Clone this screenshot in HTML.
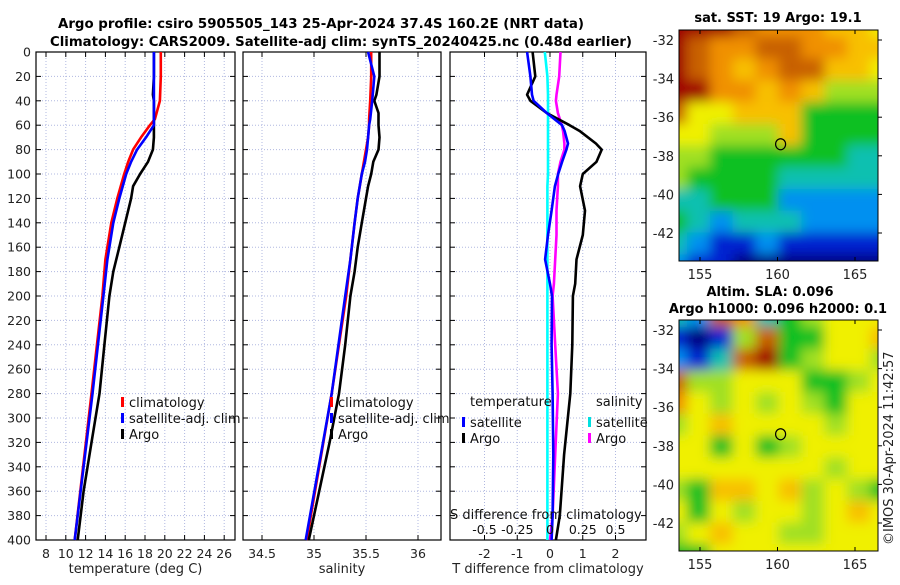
<!DOCTYPE html>
<html><head><meta charset="utf-8"><style>
body{margin:0;background:#fff;width:900px;height:580px;overflow:hidden}
svg{font-family:"DejaVu Sans","Liberation Sans",sans-serif}
</style></head><body>
<svg id="fig" width="900" height="580" xmlns="http://www.w3.org/2000/svg">
<defs>
<filter id="blur1" filterUnits="userSpaceOnUse" x="640" y="0" width="260" height="580"><feGaussianBlur stdDeviation="6"/></filter>
<clipPath id="clipM1"><rect x="679" y="30" width="199" height="231"/></clipPath>
<clipPath id="clipM2"><rect x="679" y="320" width="199" height="231"/></clipPath>
</defs>
<text x="321" y="28" text-anchor="middle" font-size="13" font-weight="bold" textLength="526" lengthAdjust="spacingAndGlyphs">Argo profile: csiro 5905505_143 25-Apr-2024 37.4S 160.2E (NRT data)</text>
<text x="341" y="46" text-anchor="middle" font-size="13" font-weight="bold" textLength="582" lengthAdjust="spacingAndGlyphs">Climatology: CARS2009. Satellite-adj clim: synTS_20240425.nc (0.48d earlier)</text>
<g id="plots"></g>
<text x="778" y="22" text-anchor="middle" font-size="13" font-weight="bold">sat. SST: 19 Argo: 19.1</text>
<text x="770" y="296" text-anchor="middle" font-size="13" font-weight="bold">Altim. SLA: 0.096</text>
<text x="778" y="313" text-anchor="middle" font-size="13" font-weight="bold">Argo h1000: 0.096 h2000: 0.1</text>
<text transform="translate(893,545) rotate(-90)" font-size="13" fill="#222">©IMOS 30-Apr-2024 11:42:57</text>
</svg>
<script>
// ---------- profile data ----------
const depthClim = [0,20,40,55,60,70,80,90,100,120,140,170,200,280,400];
const tempClim  = [19.6,19.6,19.5,19.0,18.5,17.6,16.8,16.3,15.9,15.2,14.6,14.0,13.7,12.6,10.9];
const tempSat   = [18.9,18.9,18.9,18.9,18.9,18.1,17.2,16.6,16.1,15.4,14.8,14.2,13.8,12.7,10.9];
const depthArgoT = [0,20,35,40,50,60,70,80,90,100,110,120,140,160,180,200,240,280,320,360,400];
const tempArgo   = [18.9,18.9,18.8,18.9,18.9,18.9,18.9,18.8,18.3,17.5,16.8,16.6,16.0,15.4,14.8,14.4,13.9,13.4,12.6,11.8,11.2];
const salClim = [35.55,35.55,35.54,35.53,35.53,35.52,35.50,35.48,35.46,35.42,35.39,35.35,35.31,35.17,34.93];
const salSat  = [35.52,35.58,35.56,35.54,35.53,35.52,35.51,35.49,35.46,35.42,35.39,35.35,35.30,35.17,34.92];
const salArgo = [35.63,35.63,35.60,35.58,35.62,35.62,35.63,35.62,35.57,35.55,35.52,35.50,35.46,35.42,35.39,35.35,35.30,35.24,35.15,35.05,34.95];
const depthDiff = [0,20,35,40,50,60,65,75,80,90,100,110,130,150,170,190,200,240,280,330,380,400];
const dTsat  = [-0.7,-0.6,-0.55,-0.5,-0.1,0.37,0.45,0.55,0.5,0.37,0.25,0.15,0.05,-0.06,-0.15,0.0,0.06,0.05,0.08,0.1,0.08,0.05];
const dTargo = [-0.53,-0.45,-0.7,-0.6,-0.1,0.6,0.92,1.4,1.58,1.42,1.0,0.92,1.07,1.0,0.81,0.77,0.7,0.68,0.62,0.43,0.3,0.18];
const dSsat  = [-0.04,-0.02,-0.015,-0.015,-0.015,-0.015,-0.015,-0.015,-0.015,-0.015,-0.015,-0.02,-0.02,-0.02,-0.02,-0.02,-0.02,-0.02,-0.02,-0.02,-0.02,-0.02];
const dSargo = [0.08,0.07,0.05,0.045,0.06,0.09,0.1,0.11,0.11,0.08,0.06,0.06,0.05,0.05,0.04,0.03,0.02,0.04,0.06,0.04,0.02,0.0];
const depthTicks = [0,20,40,60,80,100,120,140,160,180,200,220,240,260,280,300,320,340,360,380,400];
const tempTicks = [8,10,12,14,16,18,20,22,24,26];
const salTicks = [34.5,35,35.5,36];
const salTickLabels = ["34.5","35","35.5","36"];
const dTTicks = [-2,-1,0,1,2];
const dSTicks = [-0.5,-0.25,0,0.25,0.5];
const dSTickLabels = ["-0.5","-0.25","0","0.25","0.5"];
// ---------- map data (jet index 0..10), rows lat -32..-43, cols lon west->east ----------
const sstGrid = [
[10,10,10,9,8,8,8,7,7,6],
[10,9,8,8,9,9,8,8,7,7],
[10,9,8,7,8,9,9,7,7,6],
[10,10,8,8,7,8,7,5,5,5],
[9,6,6,7,7,7,4,4,4,4],
[6,6,5,5,5,7,4,4,4,4],
[5,5,4,4,4,4,4,4,3,3],
[5,4,4,4,4,3,3,3,3,3],
[3,3,4,4,4,2,2,2,2,2],
[4,3,2,3,3,3,2,2,2,2],
[3,2,1,1,2,1,1,1,1,1],
[2,1,1,0,0,0,0,0,0,0]];
const slaGrid = [
[3,2,9,8,3,4,5,6,6,6],
[1,0,1,5,9,4,4,6,6,7],
[2,1,3,9,10,4,5,6,6,5],
[9,5,5,6,6,6,4,4,5,6],
[8,6,5,6,5,6,5,4,6,6],
[5,6,7,6,6,6,6,5,6,6],
[6,6,4,6,4,5,6,6,6,6],
[6,6,6,6,6,6,6,5,6,6],
[5,4,7,7,6,7,5,6,5,4],
[6,4,6,5,6,6,5,6,7,6],
[5,6,7,6,6,5,5,6,6,6],
[4,4,6,6,6,6,6,6,6,6]];
const lonTicks = [155,160,165];
const latTicks = [-32,-34,-36,-38,-40,-42];
const argoLon = 160.2, argoLat = -37.4;
const jet = ["#00007f","#0020d0","#0090f0","#10c0b0","#10c020","#a0e020","#f0f000","#f8c000","#f09000","#c86000","#a00000"];

const NS="http://www.w3.org/2000/svg";
const root=document.getElementById('plots');
function mk(tag,attrs,parent){const e=document.createElementNS(NS,tag);for(const k in attrs)e.setAttribute(k,attrs[k]);(parent||root).appendChild(e);return e;}
const Y0=52,Y1=540;
const yD=d=>Y0+(Y1-Y0)*d/400;

function panel(name,x0,x1,xs,xTicks,xLabels,xTitle,showY){
  const g=mk('g',{});
  
  
  xTicks.forEach((v,i)=>{
    const l=mk('line',{x1:xs(v),x2:xs(v),y1:Y0,y2:Y1,stroke:'#b0b8e0','stroke-dasharray':'1,2','stroke-width':1},g);
    
    
    mk('line',{x1:xs(v),x2:xs(v),y1:Y1,y2:Y1-5,stroke:'#000'},g);
    mk('line',{x1:xs(v),x2:xs(v),y1:Y0,y2:Y0+5,stroke:'#000'},g);
    const t=mk('text',{x:xs(v),y:558,'text-anchor':'middle','font-size':12.5,fill:'#222'},g);
    
    
    t.textContent=xLabels[i];
  });
  depthTicks.forEach(d=>{
    const l=mk('line',{x1:x0,x2:x1,y1:yD(d),y2:yD(d),stroke:'#b0b8e0','stroke-dasharray':'1,2','stroke-width':1},g);
    
    
    mk('line',{x1:x0,x2:x0+5,y1:yD(d),y2:yD(d),stroke:'#000'},g);
    mk('line',{x1:x1,x2:x1-5,y1:yD(d),y2:yD(d),stroke:'#000'},g);
    if(showY){
      const t=mk('text',{x:31,y:yD(d)+4.5,'text-anchor':'end','font-size':12.5,fill:'#222'},g);
      
      
      t.textContent=d;
    }
  });
  const r=mk('rect',{x:x0,y:Y0,width:x1-x0,height:Y1-Y0,fill:'none',stroke:'#000','stroke-width':1.2},g);
  
  
  const tt=mk('text',{x:(x0+x1)/2,y:573,'text-anchor':'middle','font-size':13,fill:'#222'},g);
  
  
  tt.textContent=xTitle;
  return g;
}
function series(g,name,xs,vals,depths,color){
  const pts=vals.map((v,i)=>xs(v).toFixed(1)+','+yD(depths[i]).toFixed(1)).join(' ');
  const p=mk('polyline',{points:pts,fill:'none',stroke:color,'stroke-width':2.6,'stroke-linejoin':'round'},g);
  
  
}
function legend(g,x,y,color,label,name){
  const b=mk('rect',{x:x,y:y-7,width:3,height:10,fill:color},g);
  
  
  const t=mk('text',{x:x+8,y:y+3,'font-size':13,fill:'#111'},g);
  
  
  t.textContent=label;
}
// Panel 1 temperature
const xT=v=>46+(v-8)*9.9;
const g1=panel('temperature-panel',36,235,xT,tempTicks,tempTicks.map(String),'temperature (deg C)',true);
series(g1,'temp-climatology-line',xT,tempClim,depthClim,'#ff0000');
series(g1,'temp-argo-line',xT,tempArgo,depthArgoT,'#000');
series(g1,'temp-satellite-line',xT,tempSat,depthClim,'#0000ff');
legend(g1,121,404,'#ff0000','climatology','legend-climatology');
legend(g1,121,420,'#0000ff','satellite-adj. clim','legend-satellite');
legend(g1,121,436,'#000','Argo','legend-argo');
// Panel 2 salinity
const xS=v=>262+(v-34.5)*104;
const g2=panel('salinity-panel',243,441,xS,salTicks,salTickLabels,'salinity',false);
series(g2,'sal-climatology-line',xS,salClim,depthClim,'#ff0000');
series(g2,'sal-argo-line',xS,salArgo,depthArgoT,'#000');
series(g2,'sal-satellite-line',xS,salSat,depthClim,'#0000ff');
legend(g2,330,404,'#ff0000','climatology','legend-climatology');
legend(g2,330,420,'#0000ff','satellite-adj. clim','legend-satellite');
legend(g2,330,436,'#000','Argo','legend-argo');
// Panel 3 differences
const xdT=v=>550+v*32.75;
const xdS=v=>550+v*131;
const g3=panel('difference-panel',450,646,xdT,dTTicks,dTTicks.map(String),'T difference from climatology',false);
series(g3,'dS-satellite-line',xdS,dSsat,depthDiff,'#00ffff');
series(g3,'dS-argo-line',xdS,dSargo,depthDiff,'#ff00ff');
series(g3,'dT-argo-line',xdT,dTargo,depthDiff,'#000');
series(g3,'dT-satellite-line',xdT,dTsat,depthDiff,'#0000ff');
[['temperature',470,'legend-temperature-header'],['salinity',596,'legend-salinity-header']].forEach(a=>{
  const t=mk('text',{x:a[1],y:406,'font-size':13,fill:'#111'},g3);
  
  
  t.textContent=a[0];
});
legend(g3,462,424,'#0000ff','satellite','legend-t-satellite');
legend(g3,462,440,'#000','Argo','legend-t-argo');
legend(g3,588,424,'#00e0e0','satellite','legend-s-satellite');
legend(g3,588,440,'#ff00ff','Argo','legend-s-argo');
const sdt=mk('text',{x:450,y:519,'font-size':13,fill:'#111'},g3);


sdt.textContent='S difference from climatology';
dSTicks.forEach((v,i)=>{
  const t=mk('text',{x:xdS(v),y:534,'text-anchor':'middle','font-size':12.5,fill:'#111'},g3);
  
  
  t.textContent=dSTickLabels[i];
});
// ---------- maps ----------
function map(name,grid,y0,y32,clipId){
  const g=mk('g',{});
  
  
  const X0=679,X1=878,Yt=y0,Yb=y0+231;
  const lonX=lon=>700+(lon-155)*15.5;
  const latY=lat=>y32+(-32-lat)*19.3;
  const cg=mk('g',{'clip-path':'url(#'+clipId+')'},g);
  const ig=mk('g',{filter:'url(#blur1)'},cg);
  const nr=grid.length,nc=grid[0].length;
  const cw=(X1-X0+30)/nc, ch=(Yb-Yt+30)/nr;
  grid.forEach((row,r)=>row.forEach((v,c)=>{
    const cell=mk('rect',{x:X0-15+c*cw,y:Yt-15+r*ch,width:cw+1,height:ch+1,fill:jet[v]},ig);
    
    
  }));
  lonTicks.forEach(l=>{
    mk('line',{x1:lonX(l),x2:lonX(l),y1:Yb,y2:Yb-4,stroke:'#000'},g);
    mk('line',{x1:lonX(l),x2:lonX(l),y1:Yt,y2:Yt+4,stroke:'#000'},g);
    const t=mk('text',{x:lonX(l),y:Yb+18,'text-anchor':'middle','font-size':13,fill:'#222'},g);
    
    
    t.textContent=l;
  });
  latTicks.forEach(l=>{
    mk('line',{x1:X1,x2:X1+4,y1:latY(l),y2:latY(l),stroke:'#000'},g);
    const t=mk('text',{x:674,y:latY(l)+5,'text-anchor':'end','font-size':13,fill:'#222'},g);
    
    
    t.textContent=l;
  });
  const fr=mk('rect',{x:X0,y:Yt,width:X1-X0,height:Yb-Yt,fill:'none',stroke:'#000','stroke-width':1},g);
  
  
  const c=mk('ellipse',{cx:lonX(argoLon),cy:latY(argoLat),rx:5,ry:5.5,fill:'none',stroke:'#000','stroke-width':1.2},g);
  
  
}
map('sst-map',sstGrid,30,40,'clipM1');
map('sla-map',slaGrid,320,330,'clipM2');
</script>
</body></html>
